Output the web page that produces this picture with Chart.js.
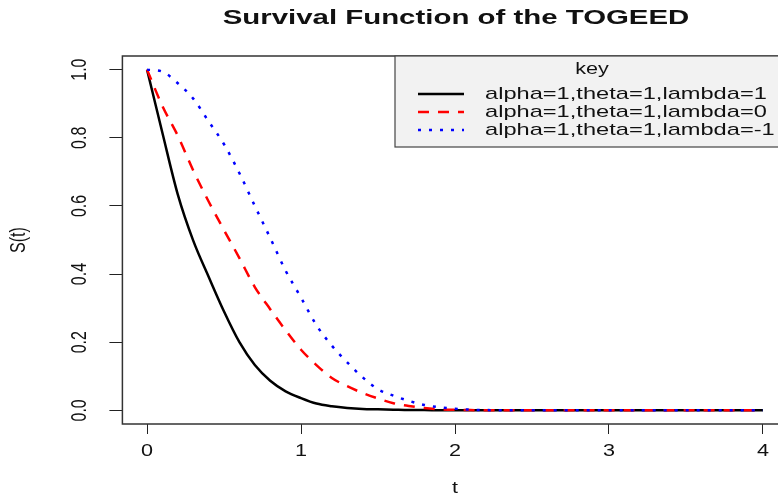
<!DOCTYPE html>
<html>
<head>
<meta charset="utf-8">
<script src="https://cdn.jsdelivr.net/npm/chart.js@4"></script>
<style>
  html, body { margin: 0; padding: 0; background: #fff; overflow: hidden; }
  #wrap { position: relative; width: 790px; height: 497px; }
</style>
</head>
<body>
<div id="wrap"><canvas id="survChart"></canvas></div>
<script>
const tValues = [0, 0.1, 0.2, 0.3, 0.4, 0.5, 0.6, 0.7, 0.8, 0.9, 1, 1.1, 1.2, 1.3, 1.4, 1.5, 1.6, 1.7, 1.8, 1.9, 2, 2.1, 2.2, 2.3, 2.4, 2.5, 2.6, 2.7, 2.8, 2.9, 3, 3.1, 3.2, 3.3, 3.4, 3.5, 3.6, 3.7, 3.8, 3.9, 4];
const sLambda1 = [1, 0.814, 0.633, 0.498, 0.392, 0.29, 0.2, 0.133, 0.087, 0.056, 0.036, 0.02, 0.012, 0.007, 0.004, 0.003, 0.002, 0.001, 0.001, 0, 0, 0, 0, 0, 0, 0, 0, 0, 0, 0, 0, 0, 0, 0, 0, 0, 0, 0, 0, 0, 0];
const sLambda0 = [1, 0.893, 0.806, 0.704, 0.613, 0.529, 0.447, 0.362, 0.297, 0.235, 0.178, 0.133, 0.095, 0.071, 0.051, 0.035, 0.021, 0.013, 0.007, 0.003, 0.0015, 0.001, 0, 0, 0, 0, 0, 0, 0, 0, 0, 0, 0, 0, 0, 0, 0, 0, 0, 0, 0];
const sLambdaM1 = [1, 0.994, 0.96, 0.915, 0.848, 0.781, 0.696, 0.6, 0.506, 0.41, 0.331, 0.25, 0.19, 0.141, 0.097, 0.062, 0.043, 0.028, 0.016, 0.009, 0.005, 0.002, 0.001, 0, 0, 0, 0, 0, 0, 0, 0, 0, 0, 0, 0, 0, 0, 0, 0, 0, 0];
const seriesLabels = ['alpha=1,theta=1,lambda=1', 'alpha=1,theta=1,lambda=0', 'alpha=1,theta=1,lambda=-1'];
const xTicks = [0, 1, 2, 3, 4];
const yTicks = [0, 0.2, 0.4, 0.6, 0.8, 1.0];

const FONT = '"Liberation Sans", Arial, sans-serif';

function pairs(ys) { return tValues.map((t, i) => ({ x: t, y: ys[i] })); }

// R graphics look wide, so text is stretched sideways a bit
function wideText(ctx, text, x, y, font, sx, rot, align) {
  ctx.save();
  ctx.translate(x, y);
  ctx.scale(sx, 1);
  if (rot) ctx.rotate(rot);
  ctx.font = font;
  ctx.fillStyle = '#111';
  ctx.textAlign = align || 'center';
  ctx.textBaseline = 'middle';
  ctx.fillText(text, 0, 0);
  ctx.restore();
}

const rDecor = {
  id: 'rDecor',
  afterDraw(chart) {
    const { ctx, chartArea: a, scales: { x, y } } = chart;

    // plot box
    ctx.save();
    ctx.strokeStyle = '#333';
    ctx.lineWidth = 1.5;
    ctx.strokeRect(a.left, a.top, a.right - a.left, a.bottom - a.top);
    ctx.restore();

    wideText(ctx, 'Survival Function of the TOGEED', 456, 18, 'bold 21px ' + FONT, 1.4);

    xTicks.forEach(v => wideText(ctx, String(v), x.getPixelForValue(v), 452, '16px ' + FONT, 1.35));
    yTicks.forEach(v => wideText(ctx, v.toFixed(1), 80, y.getPixelForValue(v), '16px ' + FONT, 1.35, -Math.PI / 2));

    wideText(ctx, 't', 455, 489, '16px ' + FONT, 1.35);
    wideText(ctx, 'S(t)', 19, 240, '16px ' + FONT, 1.35, -Math.PI / 2);

    // legend box, top right like R's legend("topright")
    const lx = 395, ly = 56, lb = 147;
    ctx.save();
    ctx.fillStyle = '#f2f2f2';
    ctx.fillRect(lx, ly, a.right - lx, lb - ly);
    ctx.strokeStyle = '#444';
    ctx.lineWidth = 1.2;
    ctx.strokeRect(lx, ly, a.right - lx, lb - ly);
    ctx.restore();
    wideText(ctx, 'key', 592, 70, '16px ' + FONT, 1.35);

    const rows = [94, 112, 130];
    chart.data.datasets.forEach((ds, i) => {
      ctx.save();
      ctx.strokeStyle = ds.borderColor;
      ctx.lineWidth = ds.borderWidth;
      ctx.setLineDash(ds.borderDash || []);
      ctx.beginPath();
      ctx.moveTo(418, rows[i]);
      ctx.lineTo(464, rows[i]);
      ctx.stroke();
      ctx.restore();
      wideText(ctx, ds.label, 485, rows[i], '17px ' + FONT, 1.39, 0, 'left');
    });
  }
};

const ctx = document.getElementById('survChart');
new Chart(ctx, {
  type: 'line',
  data: {
    datasets: [
      { label: seriesLabels[0], data: pairs(sLambda1), borderColor: '#000000', borderWidth: 2.5, order: 3 },
      { label: seriesLabels[1], data: pairs(sLambda0), borderColor: '#ff0000', borderWidth: 2.5, borderDash: [11, 9], order: 2 },
      { label: seriesLabels[2], data: pairs(sLambdaM1), borderColor: '#0000ff', borderWidth: 2.5, borderDash: [3, 8], order: 1 }
    ]
  },
  options: {
    responsive: true,
    maintainAspectRatio: false,
    animation: false,
    layout: { padding: { top: 56, right: 2.4, bottom: 0, left: 0.4 } },
    elements: { point: { radius: 0 }, line: { cubicInterpolationMode: 'monotone', fill: false } },
    plugins: { legend: { display: false }, title: { display: false }, tooltip: { enabled: false } },
    scales: {
      x: {
        type: 'linear', min: -0.16, max: 4.16,
        afterBuildTicks: s => { s.ticks = xTicks.map(v => ({ value: v })); },
        afterFit: s => { s.height = 73; },
        ticks: { display: false },
        grid: { drawOnChartArea: false, drawTicks: true, tickLength: 10, color: '#222', lineWidth: 1 },
        border: { display: false }
      },
      y: {
        type: 'linear', min: -0.04, max: 1.04,
        afterBuildTicks: s => { s.ticks = yTicks.map(v => ({ value: v })); },
        afterFit: s => { s.width = 122; },
        ticks: { display: false },
        grid: { drawOnChartArea: false, drawTicks: true, tickLength: 13, color: '#222', lineWidth: 1 },
        border: { display: false }
      }
    }
  },
  plugins: [rDecor]
});
</script>
</body>
</html>
